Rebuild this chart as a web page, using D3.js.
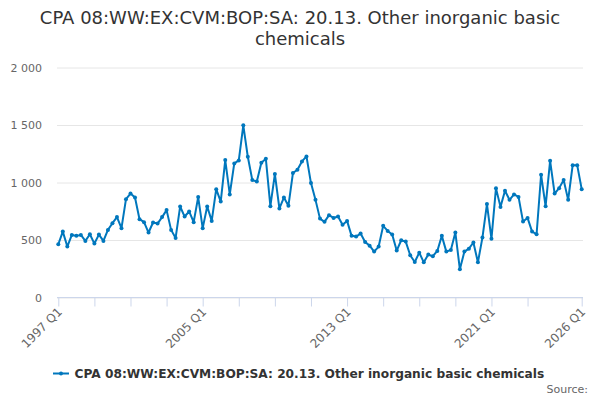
<!DOCTYPE html>
<html>
<head>
<meta charset="utf-8">
<script src="https://cdn.jsdelivr.net/npm/d3@7"></script>
<style>
  body { margin: 0; background: #fff; }
  svg { font-family: "DejaVu Sans", sans-serif; }
</style>
</head>
<body>
<div id="chart"></div>
<script>
const seriesName = "CPA 08:WW:EX:CVM:BOP:SA: 20.13. Other inorganic basic chemicals";
const titleLines = ["CPA 08:WW:EX:CVM:BOP:SA: 20.13. Other inorganic basic", "chemicals"];

const firstYear = 1997;
const values = [
  463, 573, 443, 544, 536, 544, 492, 550, 469, 547, 492, 588,
  646, 699, 603, 855, 904, 869, 681, 655, 565, 652, 643, 699,
  760, 588, 518, 791, 704, 748, 655, 873, 603, 791, 666, 942,
  834, 1195, 896, 1166, 1192, 1497, 1224, 1021, 1009, 1172, 1206, 794,
  1073, 774, 869, 797, 1082, 1111, 1183, 1227, 995, 849, 686, 658,
  716, 692, 704, 632, 666, 536, 530, 556, 483, 451, 399, 443,
  623, 579, 547, 408, 498, 486, 367, 309, 390, 306, 373, 359,
  405, 536, 399, 414, 565, 245, 399, 425, 478, 306, 521, 812,
  510, 951, 788, 928, 849, 896, 875, 660, 692, 573, 550, 1067,
  794, 1189, 904, 951, 1021, 849, 1151, 1151, 942
];
const tickLabels = ["1997 Q1", "2005 Q1", "2013 Q1", "2021 Q1", "2026 Q1"];
const yTicks = [0, 500, 1000, 1500, 2000];

// quarter categories matching the values
const categories = values.map((v, i) =>
  `${firstYear + Math.floor(i / 4)} Q${(i % 4) + 1}`);

const W = 600, H = 400;
const color = "#0077bd";

const svg = d3.select("#chart").append("svg")
  .attr("width", W).attr("height", H);

const x = d3.scalePoint().domain(categories).range([58.3, 581.7]);
const y = d3.scaleLinear().domain([0, 2000]).range([297.5, 67.5]);

// title
svg.append("g").selectAll("text")
  .data(titleLines)
  .join("text")
  .attr("x", 300)
  .attr("y", (d, i) => 24 + i * 20.5)
  .attr("text-anchor", "middle")
  .attr("font-size", 18)
  .attr("fill", "#333")
  .text(d => d);

// gridlines + y labels
const yAxis = d3.axisLeft(y)
  .tickValues(yTicks)
  .tickSize(-(583 - 57))
  .tickPadding(15)
  .tickFormat(d => d3.format(",")(d).replace(/,/g, " "));

svg.append("g")
  .attr("transform", "translate(57,0)")
  .call(yAxis)
  .call(g => g.select(".domain").remove())
  .call(g => g.selectAll(".tick line").attr("stroke", "#e6e6e6"))
  .call(g => g.selectAll(".tick text")
    .attr("fill", "#666").attr("font-size", 11)
    .attr("font-family", "DejaVu Sans, sans-serif"));

// x axis: tick every 8 quarters, plus the last one
const tickCats = categories.filter((c, i) => i % 8 === 0 && i <= categories.length - 9);
tickCats.push(categories[categories.length - 1]);

const xAxis = d3.axisBottom(x)
  .tickValues(tickCats)
  .tickSize(9)
  .tickSizeOuter(0)
  .tickFormat(d => tickLabels.includes(d) ? d : "");

const gx = svg.append("g")
  .attr("transform", "translate(0,297.5)")
  .call(xAxis);
gx.select(".domain").attr("stroke", "#ccd6eb").attr("d", "M57,0H583");
gx.selectAll(".tick line").attr("stroke", "#ccd6eb");
gx.selectAll(".tick text")
  .attr("fill", "#666")
  .attr("font-size", 12)
  .attr("font-family", "DejaVu Sans, sans-serif")
  .attr("text-anchor", "end")
  .attr("dy", null)
  .attr("y", 0)
  .attr("transform", "translate(4,15) rotate(-45)");

// series line
const line = d3.line()
  .x((d, i) => x(categories[i]))
  .y(d => y(d));

svg.append("path")
  .datum(values)
  .attr("fill", "none")
  .attr("stroke", color)
  .attr("stroke-width", 2)
  .attr("stroke-linejoin", "round")
  .attr("d", line);

svg.append("g").selectAll("circle")
  .data(values)
  .join("circle")
  .attr("cx", (d, i) => x(categories[i]))
  .attr("cy", d => y(d))
  .attr("r", 2)
  .attr("fill", color);

// legend
const lg = svg.append("g").attr("transform", "translate(53,373.5)");
lg.append("line")
  .attr("x1", 0).attr("x2", 16)
  .attr("stroke", color).attr("stroke-width", 2);
lg.append("circle").attr("cx", 8).attr("r", 2).attr("fill", color);
lg.append("text")
  .attr("x", 21.5).attr("y", 4.3)
  .attr("font-size", 12.2)
  .attr("font-weight", "bold")
  .attr("fill", "#333")
  .text(seriesName);

svg.append("text")
  .attr("x", 588).attr("y", 393)
  .attr("text-anchor", "end")
  .attr("font-size", 11)
  .attr("fill", "#666")
  .text("Source:");
</script>
</body>
</html>
